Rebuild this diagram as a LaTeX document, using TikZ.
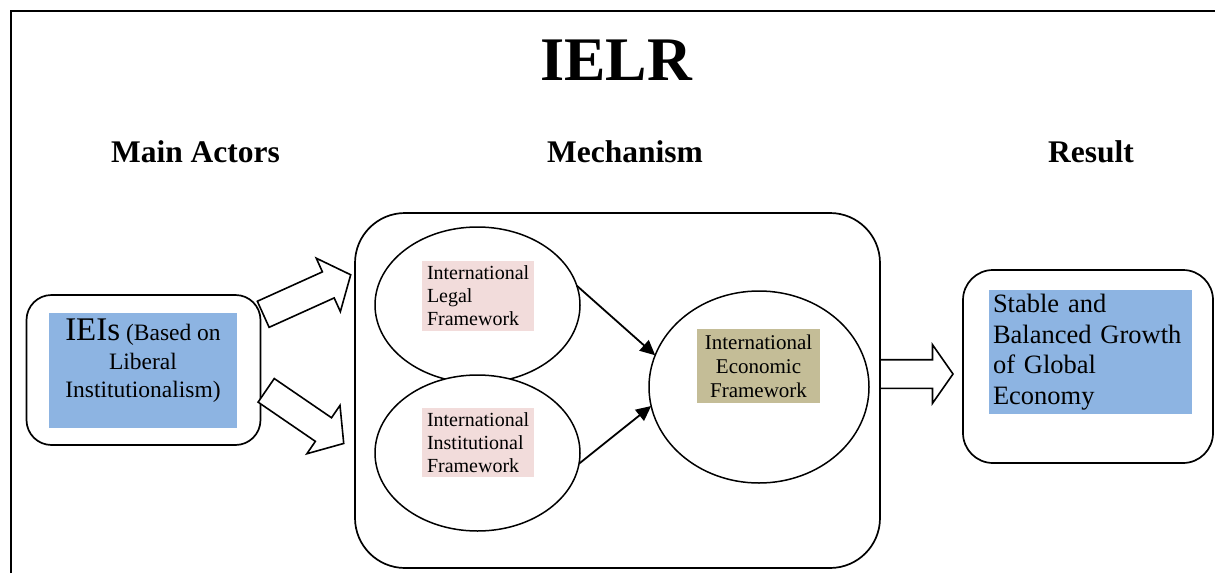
\documentclass[tikz,border=0pt]{standalone}
\usepackage{fontspec}
\setmainfont{Liberation Serif}
\usetikzlibrary{shapes.geometric,shapes.arrows,arrows.meta,calc}
\definecolor{actorblue}{HTML}{8DB4E2}
\definecolor{framepink}{HTML}{F2DCDB}
\definecolor{econtan}{HTML}{C4BD97}

\begin{document}
\begin{tikzpicture}[x=1pt,y=-1pt,
  every node/.style={inner sep=0pt, outer sep=0pt},
  heading/.style={font=\fontsize{31.5}{36}\selectfont\bfseries},
  panel/.style={draw, line width=1.7pt, rounded corners=#1},
  oval/.style={draw, ellipse, line width=1.5pt, fill=white},
  hollowarrow/.style={draw, single arrow, line width=1.6pt, fill=white,
    single arrow head extend=15pt, single arrow tip angle=100},
  link/.style={line width=1.8pt, -{Triangle[length=15pt,width=14pt]}},
  labelbox/.style={fill=#1, inner xsep=5pt, align=left,
    font=\fontsize{20}{23}\selectfont},
]

\useasboundingbox (0,0) rectangle (1215,573);

% outer frame (top and left edges)
\draw[line width=2pt] (11,573) -- (11,11) -- (1215,11);

% title and column headings
\node[font=\fontsize{62}{70}\selectfont\bfseries] (title) at (616,60) {IELR};
\node[heading] (hactors) at (195.5,152) {Main Actors};
\node[heading] (hmech) at (625,152) {Mechanism};
\node[heading] (hresult) at (1091,152) {Result};

% main actors
\node[panel=25pt, minimum width=234pt, minimum height=150pt] (actors) at (143.5,370) {};
\node[fill=actorblue, minimum width=188pt, minimum height=115pt] (actorsfill) at (143,370.5) {};
\node[align=center, font=\fontsize{23.5}{28.5}\selectfont] (actorstext) at (143,361)
  {{\fontsize{33}{33}\selectfont IEIs} (Based on\\Liberal\\Institutionalism)};

% mechanism
\node[panel=50pt, minimum width=525pt, minimum height=355pt] (mech) at (617.5,390.5) {};
\node[oval, minimum width=205pt, minimum height=156pt] (legal) at (477.5,305) {};
\node[oval, minimum width=205pt, minimum height=156pt] (inst) at (477.5,453) {};
\node[oval, minimum width=220pt, minimum height=192pt] (econ) at (759,387) {};

\node[labelbox=framepink, text width=102pt, minimum height=70pt] (legaltext) at (478,296)
  {International\\Legal\\Framework};
\node[labelbox=framepink, text width=102pt, minimum height=69pt] (insttext) at (478,442.5)
  {International\\Institutional\\Framework};
\node[fill=econtan, align=center, minimum width=123pt, minimum height=74pt,
  font=\fontsize{21}{24}\selectfont] (econtext) at (758.5,366)
  {International\\Economic\\Framework};

\draw[link] (legal.11) -- (econ.163);
\draw[link] (inst.-6) -- (econ.190);

% result
\node[panel=30pt, minimum width=250pt, minimum height=193pt] (result) at (1088,366.5) {};
\node[fill=actorblue, minimum width=203pt, minimum height=124pt, text width=195pt,
  inner xsep=4pt, align=left, font=\fontsize{26.5}{30.5}\selectfont] (resulttext) at (1090.5,352)
  {Stable and\\Balanced Growth\\of Global\\Economy};

% hollow block arrows between the columns
\node[hollowarrow, minimum height=96pt, rotate=24.3] (toLegal) at (301.5,297)
  {\rule[-13.5pt]{0pt}{27pt}};
\node[hollowarrow, minimum height=94pt, rotate=-34.4] (toInst) at (300,413.5)
  {\rule[-13.5pt]{0pt}{27pt}};
\node[hollowarrow, minimum height=73pt, single arrow tip angle=110] (toResult) at (911.5,374)
  {\rule[-13.5pt]{0pt}{27pt}};

\end{tikzpicture}
\end{document}
